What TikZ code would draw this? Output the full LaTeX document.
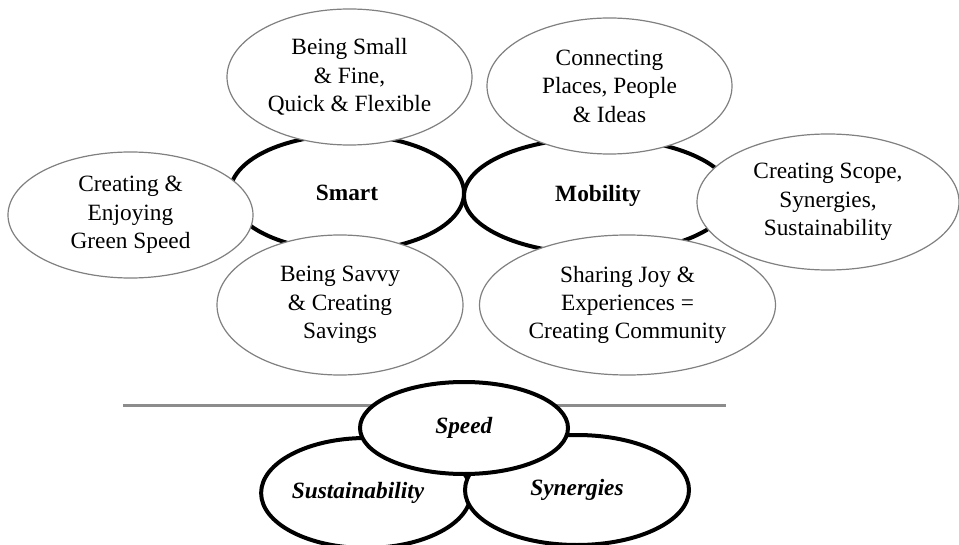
\documentclass[tikz,border=0pt]{standalone}
\usepackage{fontspec}
\setmainfont{Liberation Serif}
\usetikzlibrary{shapes.geometric}
\definecolor{rim}{RGB}{128,128,128}
\definecolor{rule}{RGB}{140,140,140}
\begin{document}
\begin{tikzpicture}[x=0.75pt,y=-0.75pt,
  every node/.style={font=\fontsize{17.5}{21.3}\selectfont, align=center},
  radii/.style n args={2}{minimum width=1.5*#1 pt, minimum height=1.5*#2 pt},
  core/.style={ellipse, draw=black, line width=3pt, fill=white, inner sep=0pt},
  facet/.style={ellipse, draw=rim, line width=0.9pt, fill=white, inner sep=0pt}]
\useasboundingbox[fill=white] (0,0) rectangle (959,545);

% the two central themes
\node[core, radii={117}{58}] (smart) at (347,193) {\textbf{Smart}};
\node[core, radii={134}{58}] (mobility) at (598,196) {\textbf{Mobility}};

% the facets around them
\node[facet, radii={122.5}{68}] (small) at (349.5,77) {Being Small\\ \& Fine,\\ Quick \& Flexible};
\node[facet, radii={122.5}{68}] (connect) at (609.5,86) {Connecting\\ Places, People\\ \& Ideas};
\node[facet, radii={122.5}{63}] (green) at (130.5,215) {Creating \&\\ Enjoying\\ Green Speed};
\node[facet, radii={148}{70}] (joy) at (627.5,305) {Sharing Joy \&\\ Experiences =\\ Creating Community};
\node[facet, radii={131}{68}] (scope) at (828,202) {Creating Scope,\\ Synergies,\\ Sustainability};
\node[facet, radii={123}{70}] (savvy) at (340,305) {Being Savvy\\ \& Creating\\ Savings};

% separating rule
\coordinate (ruleL) at (123,405);
\coordinate (ruleR) at (726,405);
\draw[rule, line width=2.25pt] (ruleL) -- (ruleR);

% the three S
\node[core, radii={104}{55}] (sust) at (366,493) {\textbf{\textit{Sustainability}}\hspace*{12pt}};
\node[core, radii={112}{55}] (syn) at (577,490) {\textbf{\textit{Synergies}}};
\node[core, radii={104}{46}] (speed) at (464,428) {\textbf{\textit{Speed}}};
\end{tikzpicture}
\end{document}
